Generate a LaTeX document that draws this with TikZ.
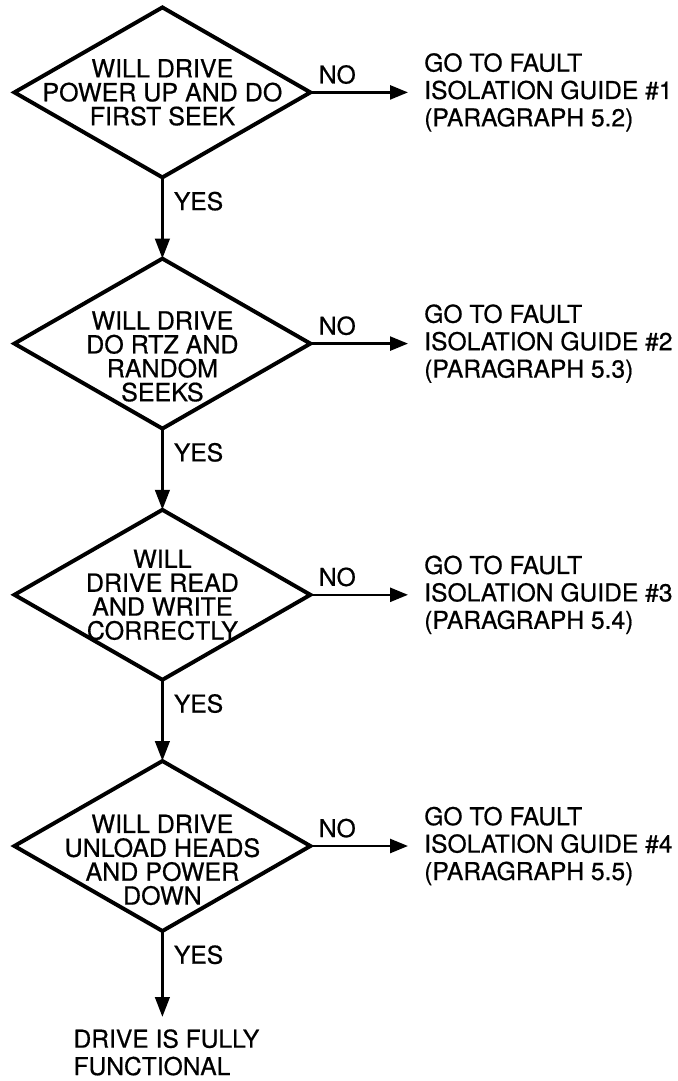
\documentclass[tikz,border=0pt]{standalone}
\usepackage{fontspec}
\setmainfont{TeX Gyre Heros}[FakeBold=0.6]
\usetikzlibrary{positioning,arrows.meta,shapes.geometric}
\tikzset{
  check/.style={diamond,draw,line width=2.8pt,aspect=1.74,minimum width=7.4cm,minimum height=4.25cm,
                inner sep=-0.6cm,outer sep=0,align=center,font=\fontsize{17.8}{17}\selectfont},
  goal/.style={align=left,inner xsep=0.4cm,inner ysep=0,font=\fontsize{17.5}{19.5}\selectfont},
  % the main line and the side branches have slightly different weights
  flow/.style={-{Triangle[length=0.5cm,width=0.36cm]},line width=2.2pt},
  side/.style={-{Triangle[length=0.45cm,width=0.35cm]},line width=1.8pt},
  yeslab/.style={pos=0,anchor=north west,inner xsep=0.25cm,inner ysep=0.32cm,font=\fontsize{17.5}{19}\selectfont},
  nolab/.style={pos=0,anchor=south west,inner xsep=0.18cm,inner ysep=0.18cm,font=\fontsize{17.5}{19}\selectfont},
}
\begin{document}
\begin{tikzpicture}
  \useasboundingbox (0,0) rectangle (16.95,-27.025);
  % the four checks, one under the other (the 4-line ones sit a little low)
  \node[check] (chk1) at (4.06,-2.31) {WILL DRIVE\\POWER UP AND DO\\FIRST SEEK};
  \node[check,below=2.03cm of chk1] (chk2) {\rule{0pt}{1.1cm}WILL DRIVE\\DO RTZ AND\\RANDOM\\SEEKS};
  \node[check,below=2.03cm of chk2] (chk3) {WILL\\DRIVE READ\\AND WRITE\\CORRECTLY};
  \node[check,below=2.03cm of chk3] (chk4) {\rule{0pt}{1.15cm}WILL DRIVE\\UNLOAD HEADS\\AND POWER\\DOWN};
  \node[goal,below=2.15cm of chk4,xshift=0.1cm,inner xsep=0,inner ysep=0.3cm] (done) {DRIVE IS FULLY\\FUNCTIONAL};
  % every NO branch sends you to a fault isolation guide
  \foreach \i/\p in {1/2,2/3,3/4,4/5} {
    \node[goal,right=2.44cm of chk\i] (fig\i) {GO TO FAULT\\ISOLATION GUIDE \#\i\\(PARAGRAPH 5.\p)};
    \draw[side] (chk\i.east) -- node[nolab] {NO} (fig\i.west);
  }
  \foreach \i/\j in {1/2,2/3,3/4}
    \draw[flow] (chk\i.south) -- node[yeslab] {YES} (chk\j.north);
  \draw[flow] (chk4.south) -- node[yeslab] {YES} (chk4.south |- done.north);
\end{tikzpicture}
\end{document}
